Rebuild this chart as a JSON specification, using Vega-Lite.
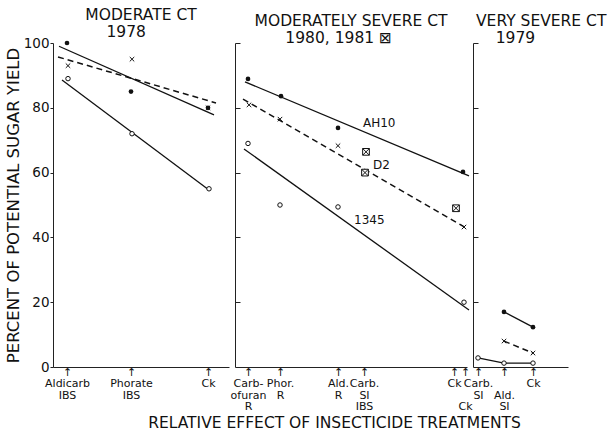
{
  "$schema": "https://vega.github.io/schema/vega-lite/v6.json",
  "background": "white",
  "padding": {"left": 5, "top": 7, "right": 0, "bottom": 0},
  "spacing": 6,
  "bounds": "flush",
  "config": {
    "font": "DejaVu Sans",
    "view": {"stroke": null},
    "axis": {"grid": false, "domainColor": "#222", "tickColor": "#222", "labelColor": "#111", "titleColor": "#111", "labelFont": "DejaVu Sans", "titleFont": "DejaVu Sans", "titleFontWeight": "normal", "domainWidth": 1, "tickWidth": 1},
    "title": {"font": "DejaVu Sans", "fontWeight": "normal", "fontSize": 15.5, "color": "#111", "lineHeight": 17, "offset": -4, "frame": "group"}
  },
  "datasets": {
    "points": [
      {"panel": 1, "series": "AH10", "x": 14, "y": 100},
      {"panel": 1, "series": "AH10", "x": 78, "y": 85},
      {"panel": 1, "series": "AH10", "x": 155, "y": 80},
      {"panel": 1, "series": "D2", "x": 15, "y": 93},
      {"panel": 1, "series": "D2", "x": 79, "y": 95},
      {"panel": 1, "series": "D2", "x": 155, "y": 80},
      {"panel": 1, "series": "1345", "x": 15, "y": 89},
      {"panel": 1, "series": "1345", "x": 79, "y": 72},
      {"panel": 1, "series": "1345", "x": 156, "y": 55},
      {"panel": 2, "series": "AH10", "x": 13, "y": 88.9},
      {"panel": 2, "series": "AH10", "x": 46, "y": 83.6},
      {"panel": 2, "series": "AH10", "x": 103, "y": 73.8},
      {"panel": 2, "series": "AH10", "x": 228, "y": 60.2},
      {"panel": 2, "series": "D2", "x": 14, "y": 80.9},
      {"panel": 2, "series": "D2", "x": 45, "y": 76.5},
      {"panel": 2, "series": "D2", "x": 103, "y": 68.3},
      {"panel": 2, "series": "D2", "x": 229, "y": 43.2},
      {"panel": 2, "series": "1345", "x": 13, "y": 69},
      {"panel": 2, "series": "1345", "x": 45, "y": 50},
      {"panel": 2, "series": "1345", "x": 103, "y": 49.4},
      {"panel": 2, "series": "1345", "x": 229, "y": 20},
      {"panel": 2, "series": "1981", "x": 131, "y": 66.4},
      {"panel": 2, "series": "1981", "x": 130, "y": 60},
      {"panel": 2, "series": "1981", "x": 221, "y": 49},
      {"panel": 3, "series": "AH10", "x": 31, "y": 17},
      {"panel": 3, "series": "AH10", "x": 60, "y": 12.3},
      {"panel": 3, "series": "D2", "x": 31, "y": 8},
      {"panel": 3, "series": "D2", "x": 60, "y": 4.3},
      {"panel": 3, "series": "1345", "x": 5, "y": 2.8},
      {"panel": 3, "series": "1345", "x": 31, "y": 1.2},
      {"panel": 3, "series": "1345", "x": 60, "y": 1.2}
    ],
    "fits": [
      {"panel": 1, "series": "AH10", "x": 6, "y": 99},
      {"panel": 1, "series": "AH10", "x": 161, "y": 77.8},
      {"panel": 1, "series": "D2", "x": 5, "y": 95.7},
      {"panel": 1, "series": "D2", "x": 163, "y": 81.5},
      {"panel": 1, "series": "1345", "x": 9, "y": 88.6},
      {"panel": 1, "series": "1345", "x": 156, "y": 54.6},
      {"panel": 2, "series": "AH10", "x": 10, "y": 88},
      {"panel": 2, "series": "AH10", "x": 234, "y": 59},
      {"panel": 2, "series": "D2", "x": 8, "y": 82.7},
      {"panel": 2, "series": "D2", "x": 231, "y": 42.9},
      {"panel": 2, "series": "1345", "x": 9, "y": 67.3},
      {"panel": 2, "series": "1345", "x": 234, "y": 17.6},
      {"panel": 3, "series": "AH10", "x": 31, "y": 17},
      {"panel": 3, "series": "AH10", "x": 60, "y": 12.3},
      {"panel": 3, "series": "D2", "x": 31, "y": 8},
      {"panel": 3, "series": "D2", "x": 60, "y": 4.3},
      {"panel": 3, "series": "1345", "x": 5, "y": 2.8},
      {"panel": 3, "series": "1345", "x": 31, "y": 1.2},
      {"panel": 3, "series": "1345", "x": 60, "y": 1.2}
    ],
    "labels": [
      {"panel": 2, "text": "AH10", "x": 128, "y": 75.3},
      {"panel": 2, "text": "D2", "x": 138, "y": 62.3},
      {"panel": 2, "text": "1345", "x": 119, "y": 45.4}
    ]
  },
  "hconcat": [
    {
      "width": 176, "height": 324,
      "title": {"text": ["MODERATE CT", "1978\u00a0\u00a0\u00a0\u00a0\u00a0\u00a0\u200b"], "anchor": "middle"},
      "encoding": {
        "x": {"field": "x", "type": "quantitative", "scale": {"domain": [0, 176], "nice": false, "zero": false},
          "axis": {"title": null, "values": [14, 78, 155], "ticks": false, "labelOverlap": false, "labelFlush": false, "labelBound": false, "labelFontSize": 11, "labelLineHeight": 11.5, "labelPadding": -1,
            "labelExpr": "datum.value == 14 ? ['↑','Aldicarb','IBS'] : datum.value == 78 ? ['↑','Phorate','IBS'] : ['↑','Ck']"}},
        "y": {"field": "y", "type": "quantitative", "scale": {"domain": [0, 100], "nice": false},
          "axis": {"title": "PERCENT OF POTENTIAL SUGAR YIELD", "titleFontSize": 16.5, "titlePadding": 2, "values": [0, 20, 40, 60, 80, 100], "labelFontSize": 13.5, "tickSize": 3, "labelPadding": 1, "labelFlush": false, "labelOverlap": false}}
      },
      "layer": [
        {"data": {"name": "fits"}, "transform": [{"filter": "datum.panel == 1 && datum.series != 'D2'"}], "mark": {"type": "line", "color": "#111", "strokeWidth": 1.3}, "encoding": {"detail": {"field": "series"}}},
        {"data": {"name": "fits"}, "transform": [{"filter": "datum.panel == 1 && datum.series == 'D2'"}], "mark": {"type": "line", "color": "#111", "strokeWidth": 1.5, "strokeDash": [6, 4]}, "encoding": {"detail": {"field": "series"}}},
        {"data": {"name": "points"}, "transform": [{"filter": "datum.panel == 1 && datum.series == 'AH10'"}], "mark": {"type": "point", "shape": "circle", "filled": true, "color": "#111", "size": 22, "opacity": 1}},
        {"data": {"name": "points"}, "transform": [{"filter": "datum.panel == 1 && datum.series == '1345'"}], "mark": {"type": "point", "shape": "circle", "filled": true, "fill": "white", "stroke": "#111", "strokeWidth": 1, "size": 20, "opacity": 1}},
        {"data": {"name": "points"}, "transform": [{"filter": "datum.panel == 1 && datum.series == 'D2'"}], "mark": {"type": "point", "shape": "M-1,-1L1,1M-1,1L1,-1", "filled": false, "stroke": "#111", "strokeWidth": 1, "size": 20, "opacity": 1}}
      ]
    },
    {
      "width": 232, "height": 324,
      "title": {"text": ["MODERATELY SEVERE CT", "1980, 1981 ⊠\u00a0\u00a0\u00a0\u00a0\u00a0\u200b"], "anchor": "middle"},
      "encoding": {
        "x": {"field": "x", "type": "quantitative", "scale": {"domain": [0, 232], "nice": false, "zero": false},
          "axis": {"title": "RELATIVE EFFECT OF INSECTICIDE TREATMENTS", "titleFontSize": 15.5, "titleX": 99, "titleY": 60, "titleBaseline": "alphabetic", "titleAlign": "center", "values": [13, 45, 103, 129, 219, 230], "ticks": false, "labelOverlap": false, "labelFlush": false, "labelBound": false, "labelFontSize": 11, "labelLineHeight": 11.5, "labelPadding": -1,
            "labelExpr": "datum.value == 13 ? ['↑','Carb-','ofuran','R'] : datum.value == 45 ? ['↑','Phor.','R'] : datum.value == 103 ? ['↑','Ald.','R'] : datum.value == 129 ? ['↑','Carb.','SI','IBS'] : datum.value == 219 ? ['↑','Ck'] : ['↑','\u200b\u00a0\u200b','\u200b\u00a0\u200b','Ck']"}},
        "y": {"field": "y", "type": "quantitative", "scale": {"domain": [0, 100], "nice": false},
          "axis": {"title": null, "labels": false, "values": [20, 40, 60, 80, 100], "tickSize": -5}}
      },
      "layer": [
        {"data": {"name": "fits"}, "transform": [{"filter": "datum.panel == 2 && datum.series != 'D2'"}], "mark": {"type": "line", "color": "#111", "strokeWidth": 1.3}, "encoding": {"detail": {"field": "series"}}},
        {"data": {"name": "fits"}, "transform": [{"filter": "datum.panel == 2 && datum.series == 'D2'"}], "mark": {"type": "line", "color": "#111", "strokeWidth": 1.5, "strokeDash": [6, 4]}, "encoding": {"detail": {"field": "series"}}},
        {"data": {"name": "points"}, "transform": [{"filter": "datum.panel == 2 && datum.series == 'AH10'"}], "mark": {"type": "point", "shape": "circle", "filled": true, "color": "#111", "size": 22, "opacity": 1}},
        {"data": {"name": "points"}, "transform": [{"filter": "datum.panel == 2 && datum.series == '1345'"}], "mark": {"type": "point", "shape": "circle", "filled": true, "fill": "white", "stroke": "#111", "strokeWidth": 1, "size": 20, "opacity": 1}},
        {"data": {"name": "points"}, "transform": [{"filter": "datum.panel == 2 && datum.series == 'D2'"}], "mark": {"type": "point", "shape": "M-1,-1L1,1M-1,1L1,-1", "filled": false, "stroke": "#111", "strokeWidth": 1, "size": 20, "opacity": 1}},
        {"data": {"name": "points"}, "transform": [{"filter": "datum.panel == 2 && datum.series == '1981'"}], "mark": {"type": "point", "shape": "M-1,-1H1V1H-1ZM-1,-1L1,1M-1,1L1,-1", "filled": false, "fill": "white", "stroke": "#111", "strokeWidth": 1, "size": 45, "opacity": 1}},
        {"data": {"name": "labels"}, "transform": [{"filter": "datum.panel == 2"}], "mark": {"type": "text", "align": "left", "baseline": "middle", "fontSize": 12, "color": "#111"}, "encoding": {"text": {"field": "text"}}}
      ]
    },
    {
      "width": 95, "height": 324,
      "title": {"text": ["VERY SEVERE CT", "\u200b\u00a0\u00a0\u00a0\u00a01979"], "anchor": "start", "dx": 3},
      "encoding": {
        "x": {"field": "x", "type": "quantitative", "scale": {"domain": [0, 95], "nice": false, "zero": false},
          "axis": {"title": null, "values": [5, 31, 60], "ticks": false, "labelOverlap": false, "labelFlush": false, "labelBound": false, "labelFontSize": 11, "labelLineHeight": 11.5, "labelPadding": -1,
            "labelExpr": "datum.value == 5 ? ['↑','Carb.','SI'] : datum.value == 31 ? ['↑','\u200b\u00a0\u200b','Ald.','SI'] : ['↑','Ck']"}},
        "y": {"field": "y", "type": "quantitative", "scale": {"domain": [0, 100], "nice": false},
          "axis": {"title": null, "labels": false, "values": [20, 40, 60, 80, 100], "tickSize": -5}}
      },
      "layer": [
        {"data": {"name": "fits"}, "transform": [{"filter": "datum.panel == 3 && datum.series != 'D2'"}], "mark": {"type": "line", "color": "#111", "strokeWidth": 1.3}, "encoding": {"detail": {"field": "series"}}},
        {"data": {"name": "fits"}, "transform": [{"filter": "datum.panel == 3 && datum.series == 'D2'"}], "mark": {"type": "line", "color": "#111", "strokeWidth": 1.5, "strokeDash": [6, 4]}, "encoding": {"detail": {"field": "series"}}},
        {"data": {"name": "points"}, "transform": [{"filter": "datum.panel == 3 && datum.series == 'AH10'"}], "mark": {"type": "point", "shape": "circle", "filled": true, "color": "#111", "size": 22, "opacity": 1}},
        {"data": {"name": "points"}, "transform": [{"filter": "datum.panel == 3 && datum.series == '1345'"}], "mark": {"type": "point", "shape": "circle", "filled": true, "fill": "white", "stroke": "#111", "strokeWidth": 1, "size": 20, "opacity": 1}},
        {"data": {"name": "points"}, "transform": [{"filter": "datum.panel == 3 && datum.series == 'D2'"}], "mark": {"type": "point", "shape": "M-1,-1L1,1M-1,1L1,-1", "filled": false, "stroke": "#111", "strokeWidth": 1, "size": 20, "opacity": 1}}
      ]
    }
  ]
}
